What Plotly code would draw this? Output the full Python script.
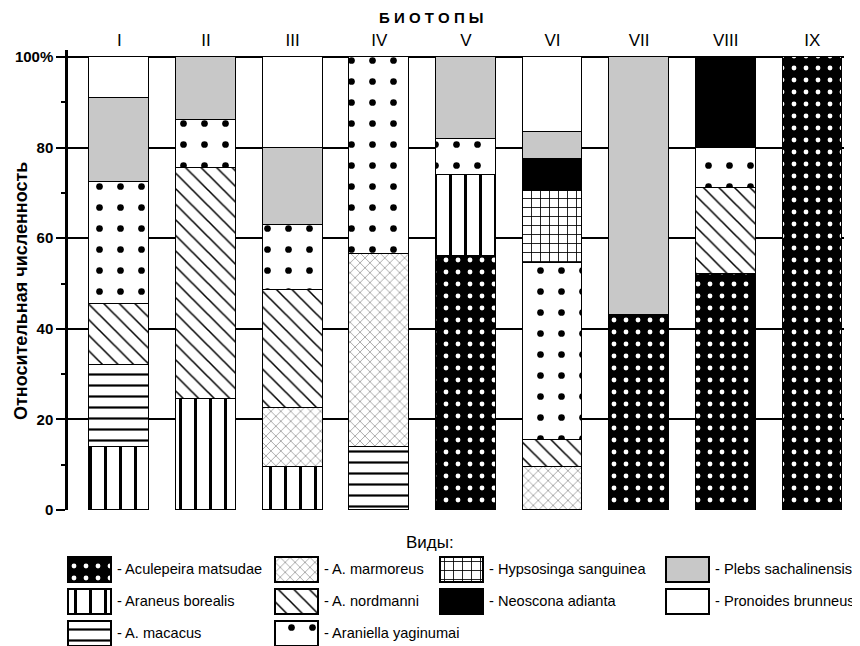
import plotly.graph_objects as go

# ---- data ----
biotopes = ["I", "II", "III", "IV", "V", "VI", "VII", "VIII", "IX"]
species = [
    "Aculepeira matsudae", "Araneus borealis", "A. macacus", "A. marmoreus",
    "A. nordmanni", "Araniella yaginumai", "Hypsosinga sanguinea",
    "Neoscona adianta", "Plebs sachalinensis", "Pronoides brunneus",
]
aculepeira = [0, 0, 0, 0, 56, 0, 43, 52, 100]
borealis   = [14, 24.5, 9.5, 0, 18, 0, 0, 0, 0]
macacus    = [18, 0, 0, 14, 0, 0, 0, 0, 0]
marmoreus  = [0, 0, 13, 42.5, 0, 9.5, 0, 0, 0]
nordmanni  = [13.5, 51, 26, 0, 0, 6, 0, 19, 0]
araniella  = [27, 10.5, 14.5, 43.5, 8, 39, 0, 9, 0]
hypsosinga = [0, 0, 0, 0, 0, 16, 0, 0, 0]
neoscona   = [0, 0, 0, 0, 0, 7, 0, 20, 0]
plebs      = [18.5, 14, 17, 0, 18, 6, 57, 0, 0]
pronoides  = [9, 0, 20, 0, 0, 16.5, 0, 0, 0]
y_ticks = [0, 20, 40, 60, 80, 100]
y_ticktext = ["0", "20", "40", "60", "80", "100%"]

series = [aculepeira, borealis, macacus, marmoreus, nordmanni,
          araniella, hypsosinga, neoscona, plebs, pronoides]

# ---- styles ----
styles = [
    dict(color="black", pattern=dict(shape=".", fgcolor="white", bgcolor="black", size=12, solidity=0.13)),
    dict(color="white", pattern=dict(shape="|", fgcolor="black", bgcolor="white", size=15, solidity=0.2)),
    dict(color="white", pattern=dict(shape="-", fgcolor="black", bgcolor="white", size=11, solidity=0.2)),
    dict(color="white", pattern=dict(shape="x", fgcolor="#666666", bgcolor="white", size=7, solidity=0.15)),
    dict(color="white", pattern=dict(shape="\\", fgcolor="black", bgcolor="white", size=11, solidity=0.14)),
    dict(color="white", pattern=dict(shape=".", fgcolor="black", bgcolor="white", size=21, solidity=0.08)),
    dict(color="white", pattern=dict(shape="+", fgcolor="black", bgcolor="white", size=9, solidity=0.18)),
    dict(color="black", pattern=dict(shape="")),
    dict(color="#c8c8c8", pattern=dict(shape="")),
    dict(color="white", pattern=dict(shape="")),
]

# page body has an 8px margin: build the figure in screen pixels minus that offset
OFF = 8
W, H = 860 - OFF, 646 - OFF
FONT = "Liberation Sans, Arial, sans-serif"


def fx(p):
    return (p - OFF) / W


def fy(p):
    return 1 - (p - OFF) / H


fig = go.Figure()
xpos = list(range(1, len(biotopes) + 1))
for name, vals, st in zip(species, series, styles):
    fig.add_trace(go.Bar(
        x=xpos, y=[v if v else None for v in vals], name=name,
        width=0.69, showlegend=False,
        marker=dict(color=st["color"], pattern=st["pattern"],
                    line=dict(color="black", width=1.2)),
        xaxis="x", yaxis="y",
    ))

# ---- custom legend (helper axis in screen pixels) ----
col_x = [68, 275, 440, 666]
row_top = [557, 589, 621]
legend_layout = [(0, 0), (0, 1), (0, 2), (1, 0), (1, 1), (1, 2), (2, 0), (2, 1), (3, 0), (3, 1)]
annotations = []
for (c, r), name, st in zip(legend_layout, species, styles):
    fig.add_trace(go.Bar(
        x=[col_x[c] + 21.5], y=[25], base=[row_top[r]], width=[43],
        showlegend=False, xaxis="x2", yaxis="y2",
        marker=dict(color=st["color"], pattern=st["pattern"],
                    line=dict(color="black", width=2)),
        hoverinfo="skip",
    ))
    annotations.append(dict(
        x=col_x[c] + 47, y=row_top[r] + 12, xref="x2", yref="y2",
        text="- " + name, showarrow=False, xanchor="left", yanchor="middle",
        font=dict(family=FONT, size=14.6, color="black"),
    ))
annotations.append(dict(
    x=430, y=542, xref="x2", yref="y2", text="Виды:", showarrow=False,
    xanchor="center", yanchor="middle", font=dict(family=FONT, size=17, color="black"),
))
annotations.append(dict(
    x=fx(431), y=fy(18), xref="paper", yref="paper", text="<b>Б И О Т О П Ы</b>",
    showarrow=False, xanchor="center", yanchor="middle",
    font=dict(family=FONT, size=15, color="black"),
))
annotations.append(dict(
    x=fx(10), y=fy(291), xref="paper", yref="paper",
    text="<b>Относительная численность</b>", textangle=-90,
    showarrow=False, xanchor="left", yanchor="middle", borderpad=0,
    font=dict(family=FONT, size=18, color="black"),
))

y_top_px = 50
units_per_px = 100 / (510 - 57)
fig.update_layout(
    width=W, height=H, template="none", barmode="stack", bargap=0,
    paper_bgcolor="white", plot_bgcolor="rgba(0,0,0,0)",
    margin=dict(l=0, r=0, t=0, b=0),
    font=dict(family=FONT, color="black"),
    xaxis=dict(
        domain=[fx(68), fx(844)], range=[0.407, 9.365], side="top",
        tickvals=xpos, ticktext=biotopes, ticks="", showline=False,
        showgrid=False, zeroline=False, tickfont=dict(size=17, family=FONT),
        automargin=False, fixedrange=True,
    ),
    yaxis=dict(
        domain=[fy(510), fy(y_top_px)],
        range=[0, 100 + (57 - y_top_px) * units_per_px],
        tickvals=y_ticks, ticktext=y_ticktext,
        ticks="outside", ticklen=9, tickwidth=2, tickcolor="black",
        tickfont=dict(size=15, family=FONT, weight="bold"),
        showgrid=True, gridcolor="black", gridwidth=1.6,
        zeroline=False, showline=True, linecolor="black", linewidth=2.5,
        minor=dict(tickvals=[10, 30, 50, 70, 90], ticks="outside", ticklen=4,
                   tickwidth=2, tickcolor="black", showgrid=False),
        automargin=False, fixedrange=True,
    ),
    xaxis2=dict(domain=[0, 1], range=[OFF, OFF + W], visible=False, fixedrange=True),
    yaxis2=dict(domain=[0, 1], range=[OFF + H, OFF], visible=False, fixedrange=True),
    annotations=annotations,
)

fig.write_html("out.html")
